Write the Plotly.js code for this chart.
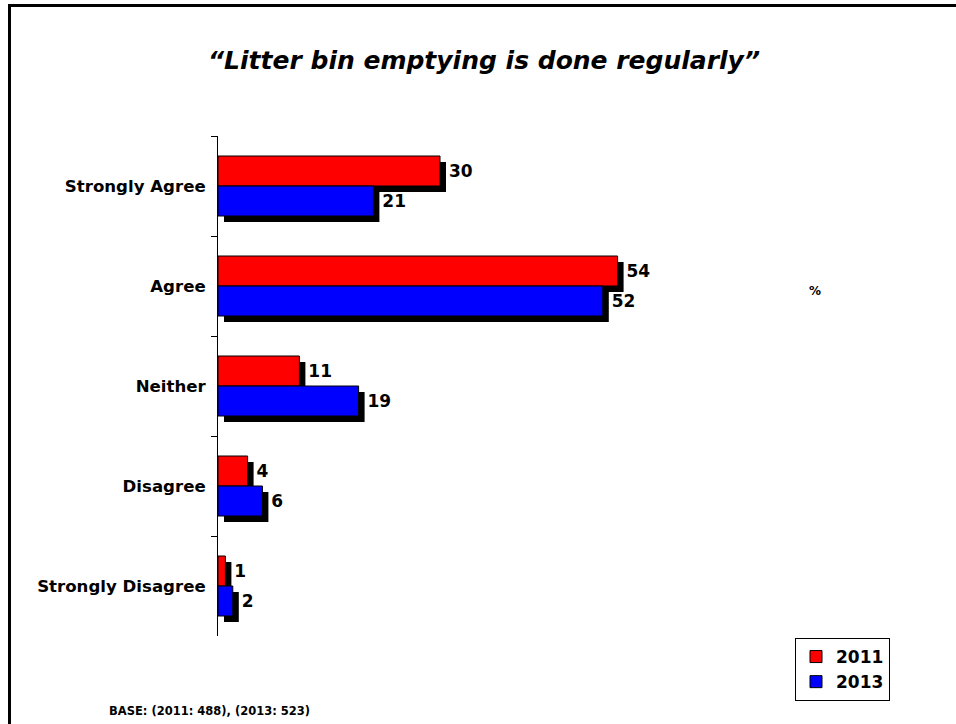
<!DOCTYPE html>
<html>
<head>
<meta charset="utf-8">
<script src="https://cdn.plot.ly/plotly-3.0.1.min.js"></script>
<style>
  html, body { margin: 0; padding: 0; background: #fff; overflow: hidden; }
  #chart { width: 956px; height: 724px; }
  #frame { position: absolute; left: 8px; top: 4px; width: 1000px; height: 800px;
           border-top: 3px solid #000; border-left: 3px solid #000; pointer-events: none; }
</style>
</head>
<body>
<div id="chart"></div>
<div id="frame"></div>
<script>
const categories = ["Strongly Agree", "Agree", "Neither", "Disagree", "Strongly Disagree"];
const values2011 = [30, 54, 11, 4, 1];
const values2013 = [21, 52, 19, 6, 2];
const seriesNames = ["2011", "2013"];
const titleText = "\u201cLitter bin emptying is done regularly\u201d";
const baseText = "BASE: (2011: 488), (2013: 523)";
const unitText = "%";

const FONT = "DejaVu Sans, Verdana, sans-serif";
const W = 956, H = 724;
const L = 218, R = 177, T = 136, B = 82;
const plotW = W - L - R, plotH = H - T - B;
const SH = 6; // shadow offset px

function realBar(name, vals, color) {
  return {
    type: "bar", orientation: "h", name: name,
    x: vals, y: categories, xaxis: "x2", yaxis: "y2",
    marker: { color: color, line: { color: "#000", width: 1 } },
    texttemplate: "\u00a0%{x}", textposition: "outside", cliponaxis: false,
    constraintext: "none",
    textfont: { family: FONT, size: 17, color: "#000", weight: "bold" },
    hoverinfo: "skip"
  };
}
function shadowBar(name, vals) {
  return {
    type: "bar", orientation: "h", name: name + " shadow", showlegend: false,
    x: vals, y: categories, xaxis: "x", yaxis: "y",
    marker: { color: "#000", line: { width: 0 } },
    hoverinfo: "skip"
  };
}

const data = [
  shadowBar(seriesNames[0], values2011),
  shadowBar(seriesNames[1], values2013),
  realBar(seriesNames[0], values2011, "#ff0000"),
  realBar(seriesNames[1], values2013, "#0000ff")
];

const xr = [0, 75];
const layout = {
  width: W, height: H,
  margin: { l: L, r: R, t: T, b: B, pad: 0 },
  paper_bgcolor: "rgba(0,0,0,0)", plot_bgcolor: "rgba(0,0,0,0)",
  font: { family: FONT, color: "#000" },
  barmode: "group", bargap: 0.4, bargroupgap: 0,
  showlegend: true,
  title: {
    text: titleText,
    font: { family: FONT, size: 25, weight: "bold", style: "italic", color: "#000" },
    xref: "container", yref: "container", x: 484 / W, xanchor: "center",
    y: 1 - 60 / H, yanchor: "middle"
  },
  xaxis: { domain: [SH / plotW, 1], range: xr, visible: false, fixedrange: true },
  yaxis: { domain: [0, 1 - SH / plotH], anchor: "x", visible: false, autorange: "reversed",
           type: "category", fixedrange: true },
  xaxis2: { domain: [0, 1 - SH / plotW], range: xr, anchor: "y2", visible: false, fixedrange: true },
  yaxis2: {
    domain: [SH / plotH, 1], anchor: "x2", autorange: "reversed", type: "category",
    showline: true, linecolor: "#000", linewidth: 1, showgrid: false, zeroline: false,
    ticks: "outside", tickson: "boundaries", ticklen: 6, tickcolor: "#000", tickwidth: 1,
    ticklabelstandoff: 8,
    tickfont: { family: FONT, size: 16.6, weight: "bold", color: "#000" }, fixedrange: true
  },
  legend: {
    xref: "container", yref: "container", x: 795 / W, y: 1 - 638 / H,
    xanchor: "left", yanchor: "top", traceorder: "normal",
    bordercolor: "#000", borderwidth: 1, bgcolor: "#fff",
    font: { family: FONT, size: 17, weight: "bold", color: "#000" },
    itemwidth: 30
  },
  annotations: [
    { text: unitText, xref: "paper", yref: "paper", x: (815 - L) / plotW, y: (H - B - 291) / plotH,
      xanchor: "center", yanchor: "middle", showarrow: false,
      font: { family: FONT, size: 12, weight: "bold", color: "#000" } },
    { text: baseText, xref: "paper", yref: "paper", x: (107 - L) / plotW, y: (H - B - 711) / plotH,
      xanchor: "left", yanchor: "middle", showarrow: false,
      font: { family: FONT, size: 11.5, weight: "bold", color: "#000" } }
  ]
};

Plotly.newPlot("chart", data, layout, { displayModeBar: false, staticPlot: true });
</script>
</body>
</html>
